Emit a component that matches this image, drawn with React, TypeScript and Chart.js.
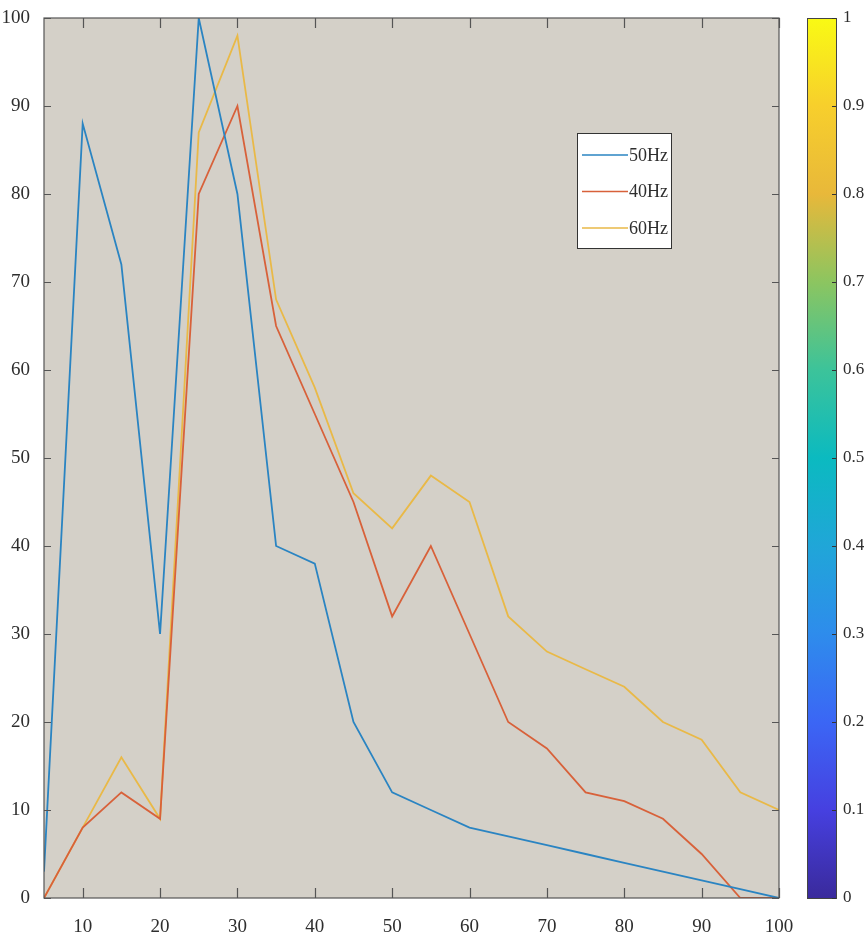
import React, { useEffect, useRef } from "react";
import { Chart, registerables } from "chart.js";

Chart.register(...registerables);

// ---- data ----
const xValues = [5, 10, 15, 20, 25, 30, 35, 40, 45, 50, 55, 60, 65, 70, 75, 80, 85, 90, 95, 100];
const hz50 = [3, 88, 72, 30, 100, 80, 40, 38, 20, 12, 10, 8, 7, 6, 5, 4, 3, 2, 1, 0];
const hz40 = [0, 8, 12, 9, 80, 90, 65, 55, 45, 32, 40, 30, 20, 17, 12, 11, 9, 5, 0, 0];
const hz60 = [0, 8, 16, 9, 87, 98, 68, 58, 46, 42, 48, 45, 32, 28, 26, 24, 20, 18, 12, 10];
const seriesLabels = ["50Hz", "40Hz", "60Hz"];
const seriesColors = ["#2a84c2", "#d8613a", "#e9b947"];

const xTicks = [10, 20, 30, 40, 50, 60, 70, 80, 90, 100];
const yTicks = [0, 10, 20, 30, 40, 50, 60, 70, 80, 90, 100];
const cbTicks = [0, 0.1, 0.2, 0.3, 0.4, 0.5, 0.6, 0.7, 0.8, 0.9, 1];
const cbTickLabels = ["0", "0.1", "0.2", "0.3", "0.4", "0.5", "0.6", "0.7", "0.8", "0.9", "1"];

// parula-like colormap stops
const parulaStops = [0, 0.1, 0.2, 0.3, 0.4, 0.5, 0.6, 0.7, 0.8, 0.9, 1];
const parulaColors = [
  "#3a2a9c",
  "#4640e0",
  "#3b66f5",
  "#2e8cec",
  "#20a6d8",
  "#0bbac0",
  "#3cc39a",
  "#8cc560",
  "#e8b83a",
  "#f7cf2c",
  "#f9fa14",
];

const FONT = "'Liberation Serif', 'Times New Roman', serif";
const AXIS_BG = "#d4d0c8";
const AXIS_COLOR = "#555555";
const TEXT_COLOR = "#2e2e2e";

const zeroPad = (s: any) => {
  s.paddingTop = 0;
  s.paddingBottom = 0;
  s.paddingLeft = 0;
  s.paddingRight = 0;
};

const decorPlugin = {
  id: "decor",
  beforeDraw(chart: any) {
    const { ctx, chartArea: a } = chart;
    ctx.save();
    ctx.fillStyle = "#ffffff";
    ctx.fillRect(0, 0, chart.width, chart.height);
    ctx.fillStyle = AXIS_BG;
    ctx.fillRect(a.left, a.top, a.right - a.left, a.bottom - a.top);
    ctx.restore();
  },
  afterDraw(chart: any) {
    const { ctx, chartArea: a, scales } = chart;
    const xs = scales.x;
    const ys = scales.y;
    const cb = scales.cb;
    ctx.save();
    // axes box
    ctx.strokeStyle = AXIS_COLOR;
    ctx.lineWidth = 1.2;
    ctx.strokeRect(a.left, a.top, a.right - a.left, a.bottom - a.top);
    // inward ticks
    ctx.beginPath();
    xTicks.forEach((v) => {
      const px = Math.round(xs.getPixelForValue(v)) + 0.5;
      ctx.moveTo(px, a.bottom);
      ctx.lineTo(px, a.bottom - 10);
      ctx.moveTo(px, a.top);
      ctx.lineTo(px, a.top + 10);
    });
    yTicks.forEach((v) => {
      const py = Math.round(ys.getPixelForValue(v)) + 0.5;
      ctx.moveTo(a.left, py);
      ctx.lineTo(a.left + 7, py);
      ctx.moveTo(a.right, py);
      ctx.lineTo(a.right - 7, py);
    });
    ctx.stroke();

    // legend
    const lx = 577, ly = 133, lw = 94, lh = 115;
    ctx.fillStyle = "#ffffff";
    ctx.fillRect(lx, ly, lw, lh);
    ctx.strokeStyle = "#333333";
    ctx.lineWidth = 1;
    ctx.strokeRect(lx + 0.5, ly + 0.5, lw, lh);
    ctx.font = `18px ${FONT}`;
    ctx.textBaseline = "middle";
    ctx.textAlign = "left";
    chart.data.datasets.forEach((ds: any, i: number) => {
      const ry = ly + 22 + i * 36.5;
      ctx.strokeStyle = ds.borderColor;
      ctx.lineWidth = 1.6;
      ctx.beginPath();
      ctx.moveTo(lx + 5, ry);
      ctx.lineTo(lx + 51, ry);
      ctx.stroke();
      ctx.fillStyle = TEXT_COLOR;
      ctx.fillText(ds.label, lx + 52, ry + 1);
    });

    // colorbar
    const cx0 = 807, cx1 = 836;
    const top = cb.getPixelForValue(1);
    const bot = cb.getPixelForValue(0);
    const grad = ctx.createLinearGradient(0, bot, 0, top);
    parulaStops.forEach((s, i) => grad.addColorStop(s, parulaColors[i]));
    ctx.fillStyle = grad;
    ctx.fillRect(cx0, top, cx1 - cx0, bot - top);
    ctx.strokeStyle = "#444444";
    ctx.lineWidth = 1;
    ctx.strokeRect(cx0 + 0.5, top + 0.5, cx1 - cx0, bot - top);
    ctx.beginPath();
    ctx.strokeStyle = "#333333";
    cbTicks.forEach((v) => {
      const py = Math.round(cb.getPixelForValue(v)) + 0.5;
      ctx.moveTo(cx1, py);
      ctx.lineTo(cx1 - 4, py);
    });
    ctx.stroke();
    ctx.restore();
  },
};

export default function App() {
  const ref = useRef<HTMLCanvasElement | null>(null);

  useEffect(() => {
    const canvas = ref.current;
    if (!canvas) return;
    const mk = (arr: number[]) => xValues.map((x, i) => ({ x, y: arr[i] }));
    const chart = new Chart(canvas, {
      type: "line",
      data: {
        datasets: [hz50, hz40, hz60].map((arr, i) => ({
          label: seriesLabels[i],
          data: mk(arr),
          borderColor: seriesColors[i],
          backgroundColor: seriesColors[i],
          borderWidth: 1.8,
          pointRadius: 0,
          tension: 0,
          fill: false,
        })),
      },
      options: {
        responsive: false,
        animation: false,
        devicePixelRatio: 1,
        layout: { padding: { left: 0, right: 0, top: 18, bottom: 0 } },
        plugins: {
          legend: { display: false },
          tooltip: { enabled: false },
        },
        scales: {
          x: {
            type: "linear",
            min: 5,
            max: 100,
            afterBuildTicks: (s: any) => {
              s.ticks = xTicks.map((v) => ({ value: v }));
            },
            afterFit: (s: any) => {
              s.height = 40;
              zeroPad(s);
            },
            grid: { display: false },
            border: { display: false },
            ticks: {
              color: TEXT_COLOR,
              font: { family: FONT, size: 19 },
              padding: 10,
              maxRotation: 0,
              autoSkip: false,
            },
          },
          y: {
            type: "linear",
            min: 0,
            max: 100,
            afterBuildTicks: (s: any) => {
              s.ticks = yTicks.map((v) => ({ value: v }));
            },
            afterFit: (s: any) => {
              s.width = 44;
              zeroPad(s);
            },
            grid: { display: false },
            border: { display: false },
            ticks: {
              color: TEXT_COLOR,
              font: { family: FONT, size: 19 },
              padding: 6,
              autoSkip: false,
            },
          },
          cb: {
            type: "linear",
            position: "right",
            min: 0,
            max: 1,
            afterBuildTicks: (s: any) => {
              s.ticks = cbTicks.map((v) => ({ value: v }));
            },
            afterFit: (s: any) => {
              s.width = 87;
              zeroPad(s);
            },
            grid: { display: false },
            border: { display: false },
            ticks: {
              color: TEXT_COLOR,
              font: { family: FONT, size: 17 },
              padding: 56,
              autoSkip: false,
              callback: (v: any) => {
                const idx = cbTicks.findIndex((t) => Math.abs(t - Number(v)) < 1e-9);
                return idx >= 0 ? cbTickLabels[idx] : "";
              },
            },
          },
        },
      },
      plugins: [decorPlugin],
    });
    return () => chart.destroy();
  }, []);

  return (
    <div style={{ position: "fixed", left: 0, top: 0, width: 866, height: 938, background: "#fff" }}>
      <canvas ref={ref} width={866} height={938} style={{ display: "block", width: 866, height: 938 }} />
    </div>
  );
}
